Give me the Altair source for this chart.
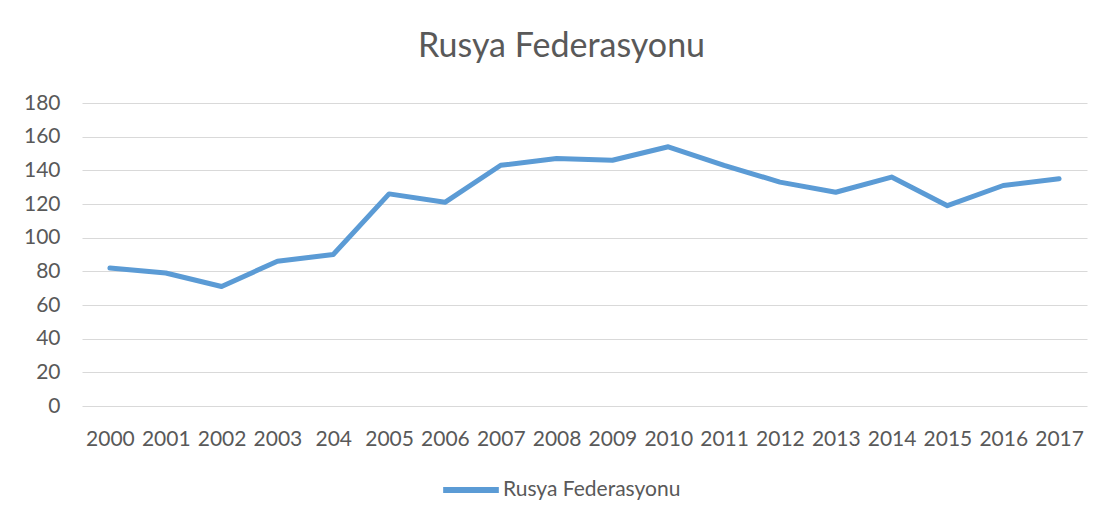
import altair as alt
import pandas as pd

years = ["2000", "2001", "2002", "2003", "204", "2005", "2006", "2007", "2008",
         "2009", "2010", "2011", "2012", "2013", "2014", "2015", "2016", "2017"]
values = [82, 79, 71, 86, 90, 126, 121, 143, 147, 146, 154, 143, 133, 127, 136, 119, 131, 135]
series = "Rusya Federasyonu"

df = pd.DataFrame({"Yil": years, "Deger": values, "Seri": [series] * len(years)})

FONT = "Lato"
GRAY = "#595959"

chart = alt.Chart(df).mark_line(strokeWidth=5, strokeCap="round", strokeJoin="round").encode(
    x=alt.X("Yil:N", sort=years, scale=alt.Scale(type="point", padding=0.5),
            axis=alt.Axis(title=None, labelAngle=0, ticks=False, domain=False, grid=False,
                          labelPadding=22, labelFontSize=21, labelColor=GRAY, labelFont=FONT)),
    y=alt.Y("Deger:Q", scale=alt.Scale(domain=[0, 180]),
            axis=alt.Axis(title=None, values=list(range(0, 181, 20)), ticks=False, domain=False,
                          gridColor="#D9D9D9", gridWidth=1.2, labelPadding=22,
                          labelFontSize=21, labelColor=GRAY, labelFont=FONT)),
    color=alt.Color("Seri:N", scale=alt.Scale(range=["#5B9BD5"]),
                    legend=alt.Legend(title=None, orient="none", legendX=358, legendY=356,
                                      symbolType="stroke", symbolSize=3100, symbolStrokeWidth=6,
                                      labelFontSize=21, labelColor=GRAY, labelFont=FONT,
                                      labelOffset=1, labelLimit=0)),
).properties(
    width=1005,
    height=303,
    title=alt.TitleParams(series, fontSize=34, font=FONT, fontWeight="normal", color=GRAY,
                          anchor="middle", dx=-23, offset=28),
    autosize=alt.AutoSizeParams(type="none"),
    padding={"left": 74, "top": 95, "right": 15, "bottom": 110},
).configure(background="white").configure_view(strokeWidth=0, stroke=None)

chart.save("out.html", embed_options={"renderer": "svg", "actions": False})
